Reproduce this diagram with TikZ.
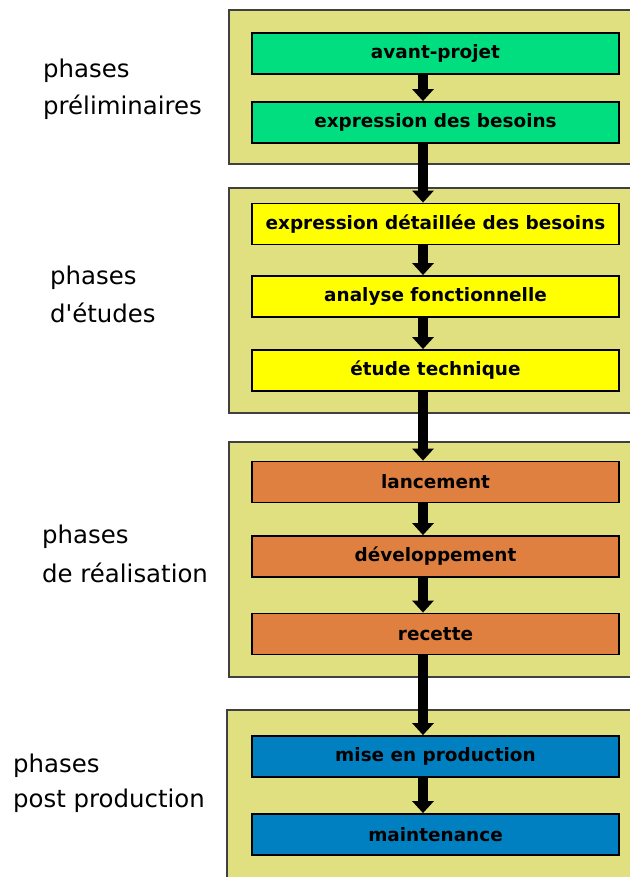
\documentclass[tikz,border=0pt]{standalone}
\usepackage{fontspec}
\setmainfont{DejaVu Sans}[Ligatures=TeXOff]
\usetikzlibrary{arrows.meta}

\definecolor{panelfill}{RGB}{224,224,128}
\definecolor{stepgreen}{RGB}{0,222,128}
\definecolor{stepyellow}{RGB}{255,255,0}
\definecolor{steporange}{RGB}{224,128,64}
\definecolor{stepblue}{RGB}{0,128,192}

\begin{document}
\begin{tikzpicture}[x=1bp,y=-1bp,
  panel/.style={draw=black!75, line width=1.5bp, fill=panelfill, inner sep=0pt},
  stepbox/.style={draw=black, line width=1.8bp, minimum width=367bp, minimum height=41bp,
    inner sep=0pt, font=\bfseries\fontsize{18.5}{20}\selectfont},
  phaselabel/.style={anchor=base west, inner sep=0pt, font=\fontsize{24.5}{26}\selectfont},
  flow/.style={line width=10bp, -{Triangle[width=21bp,length=12bp]}}]

\useasboundingbox (0,0) rectangle (630,877);
\clip (0,0) rectangle (630,877);
\fill[white] (0,0) rectangle (630,877);

% phase panels
\node[panel, minimum width=411bp, minimum height=154bp] (p1) at (434.5,87) {};
\node[panel, minimum width=411bp, minimum height=225bp] (p2) at (434.5,300.5) {};
\node[panel, minimum width=411bp, minimum height=235bp] (p3) at (434.5,559.5) {};
\node[panel, minimum width=413bp, minimum height=190bp] (p4) at (433.5,805) {};

% steps
\node[stepbox, fill=stepgreen]  (b1)  at (435.5,53.5)  {avant-projet};
\node[stepbox, fill=stepgreen]  (b2)  at (435.5,122.5) {expression des besoins};
\node[stepbox, fill=stepyellow] (b3)  at (435.5,224)   {expression détaillée des besoins};
\node[stepbox, fill=stepyellow] (b4)  at (435.5,296.5) {analyse fonctionnelle};
\node[stepbox, fill=stepyellow] (b5)  at (435.5,370.5) {étude technique};
\node[stepbox, fill=steporange] (b6)  at (435.5,482)   {lancement};
\node[stepbox, fill=steporange] (b7)  at (435.5,556.5) {développement};
\node[stepbox, fill=steporange] (b8)  at (435.5,634)   {recette};
\node[stepbox, fill=stepblue]   (b9)  at (435.5,756.5) {mise en production};
\node[stepbox, fill=stepblue]   (b10) at (435.5,834.5) {maintenance};

% flow arrows along one vertical axis
\coordinate (ax) at (423,0);
\foreach \a/\b in {b1/b2,b2/b3,b3/b4,b4/b5,b5/b6,b6/b7,b7/b8,b8/b9,b9/b10}
  \draw[flow] (\a.south -| ax) -- (\b.north -| ax);

% phase labels
\node[phaselabel] (l1a) at (43,77)  {phases};
\node[phaselabel] (l1b) at (43,114) {préliminaires};
\node[phaselabel] (l2a) at (50,284) {phases};
\node[phaselabel] (l2b) at (50,322) {d'études};
\node[phaselabel] (l3a) at (42,543) {phases};
\node[phaselabel] (l3b) at (42,582) {de réalisation};
\node[phaselabel] (l4a) at (13,772) {phases};
\node[phaselabel] (l4b) at (13,807) {post production};
\end{tikzpicture}
\end{document}
